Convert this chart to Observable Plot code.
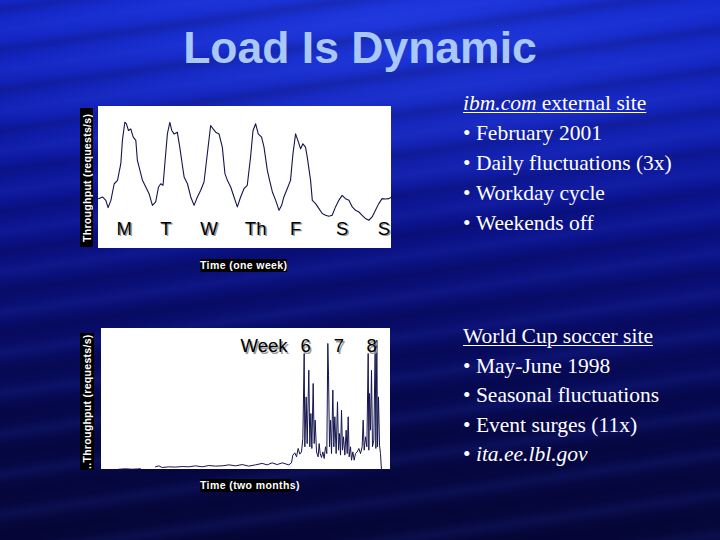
<!DOCTYPE html>
<html>
<head>
<meta charset="utf-8">
<script src="https://cdn.jsdelivr.net/npm/d3@7"></script>
<script src="https://cdn.jsdelivr.net/npm/@observablehq/plot@0.6"></script>
<style>
  html, body { margin: 0; padding: 0; }
  body {
    width: 720px; height: 540px; position: relative; overflow: hidden;
    background:
      repeating-linear-gradient(172deg, rgba(0,0,40,0) 0px, rgba(0,0,40,0.18) 9px, rgba(0,0,40,0) 20px, rgba(60,90,255,0.10) 30px, rgba(0,0,40,0) 40px),
      radial-gradient(ellipse 70% 35% at 55% 5%, rgba(40,70,240,0.55), rgba(40,70,240,0) 100%),
      linear-gradient(to bottom, #1224c6 0%, #0f1cac 22%, #0b128a 42%, #080c66 62%, #060848 80%, #050638 100%);
  }
  .title {
    position: absolute; left: 0; width: 720px; top: 26px; text-align: center;
    font-family: "Liberation Sans", Arial, sans-serif; font-weight: bold;
    font-size: 44.5px; line-height: 1; color: #a9c8f7;
  }
  .chart { position: absolute; }
  .ylab {
    position: absolute; background: #000; color: #fff;
    font-family: "Liberation Sans", Arial, sans-serif; font-weight: bold;
    font-size: 10.5px; letter-spacing: 0.3px; white-space: nowrap;
    writing-mode: vertical-rl; transform: rotate(180deg);
    display: flex; align-items: center; justify-content: center;
  }
  .xlab {
    position: absolute; background: #000; color: #fff;
    font-family: "Liberation Sans", Arial, sans-serif; font-weight: bold;
    font-size: 10.5px; letter-spacing: 0.4px; line-height: 13px;
    text-align: center; white-space: nowrap;
  }
  .notes {
    position: absolute; left: 463px; color: #fff;
    font-family: "Liberation Serif", "Times New Roman", Times, "DejaVu Serif", serif;
    font-size: 21.5px; line-height: 30px; white-space: nowrap;
  }
  .notes .h { text-decoration: underline; text-decoration-thickness: 1px; text-underline-offset: 2px; }
  .notes i { font-style: italic; }
</style>
</head>
<body>
<div class="title">Load Is Dynamic</div>

<div class="ylab" style="left:80px; top:108px; width:13px; height:139px;">Throughput (requests/s)</div>
<div class="chart" id="c1" style="left:98px; top:106px;"></div>
<div class="xlab" style="left:200px; top:259px; width:87px; height:13px;">Time (one week)</div>

<div class="ylab" style="left:80px; top:333px; width:14px; height:137px;">..Throughput (requests/s)</div>
<div class="chart" id="c2" style="left:101px; top:328px;"></div>
<div class="xlab" style="left:200px; top:479px; width:91px; height:13px;">Time (two months)</div>

<div class="notes" style="top:88px;">
  <div class="h"><i>ibm.com</i> external site</div>
  <div>•&nbsp;February 2001</div>
  <div>•&nbsp;Daily fluctuations (3x)</div>
  <div>•&nbsp;Workday cycle</div>
  <div>•&nbsp;Weekends off</div>
</div>
<div class="notes" style="top:322px; line-height:29.6px;">
  <div class="h">World Cup soccer site</div>
  <div>•&nbsp;May-June 1998</div>
  <div>•&nbsp;Seasonal fluctuations</div>
  <div>•&nbsp;Event surges (11x)</div>
  <div>•&nbsp;<i>ita.ee.lbl.gov</i></div>
</div>

<script>
// ibm.com, one week (hours vs throughput, % of axis)
const weekHours = [0,2.3,4.2,5.5,7.1,9.0,10.9,12.8,13.7,15.1,16.0,17.2,18.5,19.9,21.4,22.3,23.3,25.2,27.1,29.0,30.9,32.8,34.4,35.7,37.0,38.2,39.5,40.9,42.0,43.3,45.2,46.6,47.7,49.1,51.0,52.9,54.8,56.7,58.6,60.5,62.4,64.3,65.7,67.2,69.1,71.0,72.5,73.9,75.8,77.7,79.6,81.5,83.4,85.3,87.2,88.6,90.1,91.6,93.5,94.9,96.8,98.1,99.7,101.6,103.5,105.0,106.3,108.2,110.1,111.5,113.0,114.3,115.9,117.2,118.7,119.7,121.6,122.6,124.5,126.4,128.3,130.2,132.1,134.0,135.9,137.8,139.7,141.6,143.6,145.5,147.4,149.3,151.2,153.1,155.0,156.9,158.8,160.7,162.6,164.6,166.5,168.0];
const weekLoad  = [35.1,36.3,33.9,28.8,33.9,45.6,48.0,59.7,76.1,88.9,87.8,83.1,84.2,78.4,76.1,62.0,57.3,48.0,43.3,38.6,30.4,32.8,43.3,45.6,44.5,62.0,80.7,88.9,83.1,80.7,81.9,71.4,62.0,50.3,45.6,36.3,30.4,36.3,41.0,46.8,66.7,86.6,84.2,81.9,80.7,71.4,52.7,48.0,43.3,36.3,29.3,36.3,42.1,44.5,64.4,83.1,87.8,80.7,78.4,71.4,55.0,48.0,39.8,33.9,26.9,30.4,36.3,42.1,48.0,66.7,80.7,76.1,70.2,73.7,71.4,64.4,48.0,33.9,31.6,28.1,24.6,23.4,22.7,23.4,29.3,33.9,37.4,35.1,33.9,29.3,26.9,25.7,23.4,21.1,19.9,22.2,26.9,31.6,35.1,34.9,35.1,36.3];
const dayLabels = ["M","T","W","Th","F","S","S"];
const dayLabelHours = [14.7,38.6,63.4,90.1,113.0,139.7,163.6];
const dayLabelLevel = 14;

// World Cup, two months (days vs throughput, % of axis); null = no data
const cupDays = [3.66,5.07,6.47,8.23,9.8,11.40,12.10,12.81,14.21,15.62,17.03,18.43,19.84,21.25,22.66,24.06,25.47,26.88,28.29,29.69,31.10,32.51,33.91,34.97,36.02,37.08,38.14,39.54,40.10,40.39,40.81,41.16,41.51,41.86,42.21,42.50,42.78,42.92,43.20,43.41,43.76,43.97,44.19,44.40,44.68,44.89,45.10,45.38,45.73,45.94,46.16,46.44,46.72,47.00,47.28,47.56,47.77,47.92,48.13,48.34,48.55,48.83,49.04,49.25,49.53,49.81,50.03,50.24,50.45,50.66,50.87,51.08,51.36,51.64,51.86,52.07,52.28,52.56,52.77,53.05,53.33,53.61,53.97,54.32,54.67,55.02,55.23,55.44,55.73,56.01,56.29,56.43,56.57,56.78,56.99,57.20,57.48,57.77,57.91,58.12,58.26,58.47,58.68,58.89,59.03,59.10];
const cupLoad = [0.2,0.5,0.2,0.5,null,1.9,2.6,1.4,1.9,1.7,2.1,1.9,2.6,1.9,2.8,2.4,2.6,3.3,2.6,3.5,2.4,3.3,4.3,3.3,4.7,3.5,4.7,3.3,4.7,10.2,11.8,9.0,14.9,10.9,12.5,22.0,82.3,16.1,51.5,18.4,70.4,16.1,39.7,14.9,61.0,18.4,35.0,12.5,9.0,18.4,11.3,8.5,12.5,7.8,16.1,11.3,89.4,66.9,16.1,35.0,11.3,56.3,16.1,37.4,11.3,48.0,13.7,25.5,10.2,42.1,13.7,23.2,10.2,27.9,11.3,37.4,9.0,16.1,6.6,12.5,6.6,11.3,12.5,14.9,11.3,16.1,35.0,13.7,23.2,16.1,82.3,13.7,53.9,27.9,70.4,16.1,20.8,89.4,14.9,91.7,16.1,51.5,17.3,11.3,3.1,0];
const weekLabels = ["Week","6","7","8"];
const weekLabelDays = [34.3,43.1,50.1,57.0];
const weekLabelLevel = 87.5;

const week = weekHours.map((h, i) => ({h, v: weekLoad[i]}));
const days = dayLabels.map((t, i) => ({t, h: dayLabelHours[i], v: dayLabelLevel}));
const cup = cupDays.map((d, i) => ({d, v: cupLoad[i]}));
const weeks = weekLabels.map((t, i) => ({t, d: weekLabelDays[i], v: weekLabelLevel}));

const lineColor = "#15154e";
const font = "Liberation Sans, Arial, sans-serif";

const p1 = Plot.plot({
  width: 293, height: 142, margin: 0,
  x: {domain: [0, 168], axis: null},
  y: {domain: [0, 100], axis: null},
  style: {background: "white", fontFamily: font, overflow: "visible"},
  marks: [
    Plot.line(week, {x: "h", y: "v", stroke: lineColor, strokeWidth: 1.1}),
    Plot.text(days, {x: "h", y: "v", text: "t", fontSize: 18.5, fill: "#9a9a9a", dx: 1.5, dy: 1.5}),
    Plot.text(days, {x: "h", y: "v", text: "t", fontSize: 18.5, fill: "#000"})
  ]
});
document.getElementById("c1").appendChild(p1);

const p2 = Plot.plot({
  width: 289, height: 141, margin: 0,
  x: {domain: [0, 61], axis: null},
  y: {domain: [0, 100], axis: null},
  style: {background: "white", fontFamily: font, overflow: "visible"},
  marks: [
    Plot.line(cup, {x: "d", y: "v", stroke: lineColor, strokeWidth: 1}),
    Plot.text(weeks, {x: "d", y: "v", text: "t", fontSize: 18.5, fill: "#9a9a9a", dx: 1.5, dy: 1.5}),
    Plot.text(weeks, {x: "d", y: "v", text: "t", fontSize: 18.5, fill: "#000"})
  ]
});
document.getElementById("c2").appendChild(p2);
</script>
</body>
</html>
